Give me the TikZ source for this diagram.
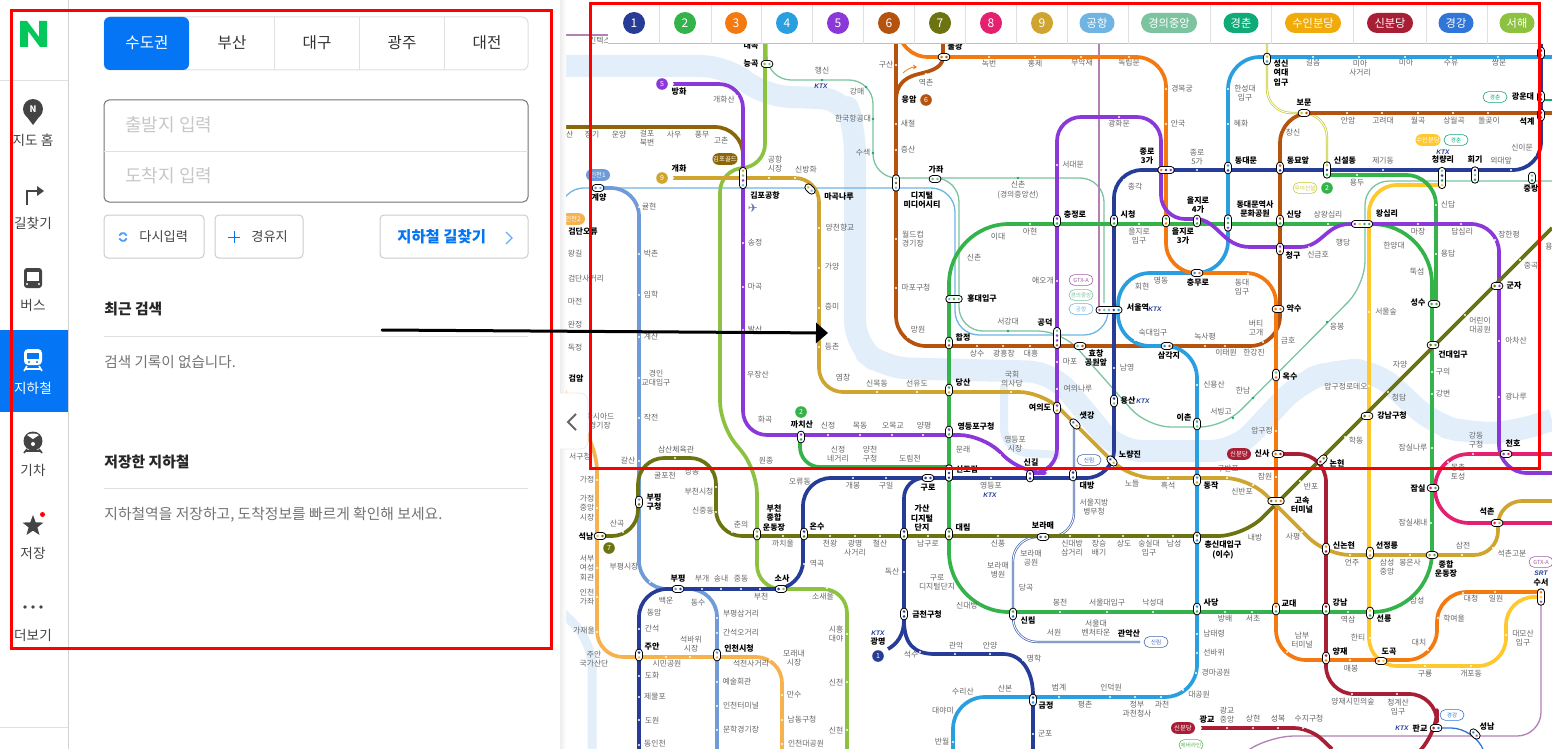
\documentclass[tikz,border=0pt]{standalone}
\usepackage{fontspec}
\usepackage{xcolor}
\setmainfont{Noto Sans CJK KR}
\newfontfamily\ktxfont{Liberation Sans}
\newfontfamily\symfont{DejaVu Sans}
\usetikzlibrary{arrows.meta,shapes.geometric,shapes.misc,positioning}
\definecolor{ln1}{HTML}{263C96}
\definecolor{ln2}{HTML}{33B34A}
\definecolor{ln3}{HTML}{F47A10}
\definecolor{ln4}{HTML}{2A9FDF}
\definecolor{ln5}{HTML}{8A38D8}
\definecolor{ln6}{HTML}{B5520E}
\definecolor{ln7}{HTML}{6B7410}
\definecolor{ln8}{HTML}{E5206E}
\definecolor{ln9}{HTML}{CFA52F}
\definecolor{lnap}{HTML}{6FB4E2}
\definecolor{lngj}{HTML}{7CC4A0}
\definecolor{lngc}{HTML}{0FAA78}
\definecolor{lnsu}{HTML}{F0AB0A}
\definecolor{lnyl}{HTML}{FFC82F}
\definecolor{lnsn}{HTML}{A81E34}
\definecolor{lngk}{HTML}{2F76D8}
\definecolor{lnsh}{HTML}{8DC240}
\definecolor{lnia}{HTML}{6F9BD8}
\definecolor{lnib}{HTML}{F5B24F}
\definecolor{lngp}{HTML}{8B6508}
\definecolor{lnui}{HTML}{C9C92B}
\definecolor{lnsl}{HTML}{4466B0}
\definecolor{lngtx}{HTML}{A060A0}
\definecolor{lnev}{HTML}{5CB85C}
\definecolor{riverblue}{HTML}{E3EEFB}
\definecolor{naverblue}{HTML}{0475F4}
\definecolor{navergreen}{HTML}{03C75A}
\definecolor{icondark}{HTML}{444444}
\definecolor{labelgray}{HTML}{666666}
\tikzset{
	metro/.style={line width=1.85pt,line join=round,rounded corners=14pt},
	thin metro/.style={line width=.65pt,line join=round,rounded corners=12pt},
	twinline/.style={draw=#1,double=white,double distance=.45pt,line width=.35pt,rounded corners=12pt},
	river/.style={draw=riverblue,line width=#1,line join=round,rounded corners=12pt},
	hubedge/.style={black,line width=3.9pt,line cap=round},
	hubfill/.style={white,line width=2.9pt,line cap=round},
	stgray/.style={inner sep=0pt,align=center,text=labelgray,font=\fontsize{3.9}{4.6}\selectfont},
	stbold/.style={inner sep=0pt,align=center,text=black,font=\fontsize{4}{4.7}\selectfont\bfseries},
	ktxmark/.style={inner sep=0pt,text=ln1,font=\fontsize{3.3}{4}\ktxfont\bfseries\itshape},
	numdisc/.style={circle,fill=#1,text=white,inner sep=0pt,minimum size=11pt,font=\fontsize{6}{7}\selectfont},
	mapdisc/.style={circle,fill=#1,text=white,inner sep=0pt,minimum size=5.8pt,font=\fontsize{3.5}{4}\selectfont},
	legendpill/.style={rounded rectangle,fill=#1,text=white,inner sep=0pt,minimum height=10pt,font=\fontsize{5.6}{6.5}\selectfont},
	mappill/.style={rounded rectangle,draw=#1,text=#1,fill=white,line width=.3pt,inner sep=0pt,minimum width=12pt,minimum height=5.4pt,font=\fontsize{2.8}{3.4}\selectfont},
	mapfill/.style={rounded rectangle,fill=#1,text=white,inner sep=0pt,minimum width=12pt,minimum height=5.8pt,font=\fontsize{3.2}{3.8}\selectfont},
	sidelabel/.style={inner sep=0pt,text=icondark,font=\fontsize{6.8}{7.8}\selectfont},
	tablabel/.style={inner sep=0pt,text=black!80,font=\fontsize{7.8}{9}\selectfont},
	panelrule/.style={black!12,line width=.5pt},
	softbox/.style={draw=black!20,fill=white,line width=.5pt,rounded corners=2pt},
	redframe/.style={draw=red,line width=1.5pt},
}
\newcommand{\Hub}[4]{%
	\begin{scope}[shift={(#1)},rotate=#2]
		\pgfmathsetmacro{\hubreach}{(#3-1)*2.4}
		\draw[hubedge] (-\hubreach,0) -- (\hubreach,0);
		\draw[hubfill] (-\hubreach,0) -- (\hubreach,0);
		\foreach \Tint [count=\i] in {#4}
			\fill[\Tint] ({(\i-(#3+1)/2)*4.8},0) circle (1.4);
	\end{scope}}

\begin{document}
\begin{tikzpicture}[x=.5pt,y=-.5pt]
	\clip (0,0) rectangle (1552,749);
	\fill[white] (0,0) rectangle (1552,749);

	% river
	\draw[river=11pt] (560,66) -- (725,66) -- (765,96) -- (845,99) -- (855,130) -- (855,345) -- (885,368) -- (1052,372) -- (1118,451) -- (1235,451) -- (1300,382) -- (1335,370) -- (1375,370) -- (1435,425) -- (1470,433) -- (1510,433) -- (1552,420);
	\draw[river=4pt] (1004,385) -- (1004,452) -- (1060,455);
	\draw[river=4.5pt] (560,610) -- (592,642) -- (592,749);

	% thin lines
	\draw[thin metro,lnap] (560,216) -- (560,188) -- (955,188) -- (955,335) -- (1108,335) -- (1108,310);
	\draw[thin metro,lngj] (767,44) -- (767,80) -- (873,80) -- (873,178) -- (1104,178) -- (1104,303);
	\draw[thin metro,lngj] (942,178) -- (959,178) -- (959,331) -- (1062,331) -- (1147,427) -- (1224,427) -- (1365,285) -- (1365,181) -- (1552,181);
	\draw[thin metro,lngtx!80] (1099,44) -- (1099,310);
	\draw[thin metro,lngtx!80] (1541,597) -- (1541,736) -- (1270,736) -- (1250,749);
	\draw[thin metro,lngtx!80] (560,35) -- (608,35);
	\draw[thin metro,lngk] (1437,728) -- (1475,728) -- (1483,749);
	\draw[thin metro,lngc] (1541,100) -- (1552,100);
	\draw[twinline=lnui] (1267,44) -- (1267,113) -- (1327,113) -- (1327,165);
	\draw[twinline=lnsl] (1074,425) -- (1074,537) -- (1013,537) -- (1013,642) -- (1140,642);

	% main lines
	\draw[metro,lnsh,rounded corners=12pt] (765,44) -- (765,168) -- (720,168) -- (720,425) -- (757,470) -- (757,589) -- (847,589) -- (847,749);
	\draw[metro,lnia] (598,188) -- (639,188) -- (639,589) -- (717,589) -- (717,749);
	\draw[metro,lnib,rounded corners=13pt] (562,230) -- (562,400) -- (597,445) -- (597,657) -- (782,657) -- (782,749);
	\draw[metro,lngp,rounded corners=14pt] (560,127) -- (743,127) -- (743,178);
	\draw[metro,lnyl] (1441,185) -- (1369,185) -- (1369,666) -- (1506,666) -- (1506,597) -- (1540,597);
	\draw[metro,ln6,rounded corners=15pt] (896,44) -- (896,346) -- (1280,346) -- (1280,113) -- (1552,113);
	\draw[metro,ln6,sharp corners] (943,44) -- (943,57) .. controls (943,70) and (925,72) .. (915,75) .. controls (905,78) and (896,85) .. (896,100);
	\draw[metro,ln4,rounded corners=16pt] (1552,57) -- (1228,57) -- (1228,273) -- (1118,273) -- (1118,346) -- (1197,346) -- (1197,697) -- (953,697) -- (953,749);
	\draw[metro,ln3,rounded corners=15pt] (898,44) -- (898,57) -- (1166,57) -- (1166,273) -- (1276,273) -- (1276,660) -- (1437,660) -- (1437,592) -- (1540,592);
	\draw[metro,ln2,rounded corners=30pt] (949,224) -- (1432,224) -- (1432,612) -- (949,612) -- cycle;
	\draw[metro,ln2,rounded corners=15pt] (1327,175) -- (1436,175) -- (1436,303);
	\draw[metro,ln2,rounded corners=10pt] (800,438) -- (800,467) -- (949,467);
	\draw[metro,ln5,rounded corners=12pt] (673,84) -- (743,84) -- (743,435) -- (983,435) -- (1021,473) -- (1057,473) -- (1057,117) -- (1161,117) -- (1161,219) -- (1195,219);
	\draw[metro,ln5,sharp corners] (1195,219) .. controls (1218,219) and (1222,247) .. (1250,247) -- (1300,247) .. controls (1322,247) and (1326,224) .. (1350,224);
	\draw[metro,ln5,rounded corners=14pt] (1350,224) -- (1499,224) -- (1499,473) -- (1552,473);
	\draw[metro,ln1] (1541,44) -- (1541,170) -- (1114,170) -- (1114,478) -- (803,478) -- (803,589) -- (639,589) -- (639,749);
	\draw[metro,ln1,rounded corners=10pt] (925,478) -- (904,478) -- (904,625);
	\draw[metro,ln1,sharp corners] (904,620) .. controls (904,635) and (897,644) .. (888,649);
	\draw[metro,ln1,sharp corners] (904,620) .. controls (904,645) and (915,654) .. (935,654) -- (1003,654) .. controls (1022,654) and (1033,672) .. (1033,695) -- (1033,749);
	\draw[metro,ln7,rounded corners=13pt] (1552,228) -- (1244,536) -- (716,536) -- (716,458) -- (638,458) -- (638,536) -- (600,536);
	\draw[metro,ln9,rounded corners=12pt] (673,178) -- (819,178) -- (819,392) -- (1043,392) -- (1129,478) -- (1249,478) -- (1326,555) -- (1498,555) -- (1498,501) -- (1552,501);
	\draw[metro,ln8,rounded corners=17pt] (1552,454) -- (1435,454) -- (1435,523) -- (1552,523);
	\draw[metro,lnsn] (1277,454) -- (1326,454) -- (1326,694) -- (1437,694) -- (1437,738) -- (1423,749);
	\draw[metro,lnsn,rounded corners=8pt] (1201,728) -- (1310,728) -- (1332,749);
	\draw[-{Stealth[length=2pt,width=2.4pt]},ln3,line width=.4pt] (903,73) .. controls (907,69) and (912,67) .. (917,67);

	% stops
	\foreach \X/\Y in {743/243,743/287,743/330,737/96,755/427,828/435,860/435,892/435,923/435,1000/455,1057/165,1057/281,1057/362,1057/389,1119/117,1418/224,1461/224,1495/240,1499/341,1499/397,1332/236,1309/247,673/84,673/178,769/178,795/178,819/228,819/268,819/308,819/347,832/385,877/392,917/392,1011/392,1138/478,1168/478,1227/478,1253/485,1302/532,1350/555,1410/555,1462/555,1493/548,1520/260,1465/315,1388/392,1345/437,1300/481,1247/532,1070/536,1099/536,1123/536,1148/536,1173/536,998/536,928/536,880/536,855/536,830/536,783/536,732/532,716/512,716/487,702/465,675/458,652/470,623/532,1124/180,1197/170,1383/170,1511/170,1535/155,1114/368,853/478,886/478,991/478,812/490,804/564,702/589,721/589,741/589,760/589,655/595,639/629,639/676,639/697,639/720,639/745,904/572,920/652,955/654,990/654,1023/660,1033/734,988/231,963/251,1030/224,1139/224,1328/224,1407/240,1425/267,1432/372,1432/394,1432/448,1431/523,1407/595,1060/612,1107/612,1153/612,1225/612,1252/612,1348/612,980/600,1357/175,1436/205,1436/254,989/57,1035/57,1081/57,1129/57,1166/89,1166/124,1248/274,1276/431,1276/477,1287/652,1350/660,1428/650,1438/618,1463/593,1495/592,1313/57,1359/57,1405/57,1451/57,1498/57,1228/89,1228/124,1132/282,1135/340,1197/385,1197/634,1197/653,1196/673,1183/690,1059/697,1110/697,1135/697,1161/697,953/742,896/65,896/124,896/150,896/239,896/288,908/337,977/346,1003/346,1030/346,1205/346,1225/346,1263/342,1280/130,1347/113,1382/113,1418/113,1453/113,1488/113,926/74,1473/454,1448/462,1369/312,1369/386,1370/638,1425/666,1471/666,1506/635,597/480,597/508,597/568,597/597,597/632,610/650,666/657,690/657,770/660,782/695,782/720,782/744,639/207,639/254,639/295,639/337,639/378,639/418,639/461,650/582,703/597,717/618,717/633,717/682,717/706,717/730,847/634,847/682,847/730,827/588,1352/694,1397/694,1201/728,1227/728,1253/728,1278/728,1303/728}
		\fill[white] (\X,\Y) circle (1.2);
	\foreach \X/\Y in {822/80,866/87,873/119,873/153,1018/178,1008/331,1327/322,1253/398,1233/418}
		\fill[lngc] (\X,\Y) circle (1.4);

	% interchanges
	\Hub{767,64}{0}{2}{lnsh,lngj}
	\Hub{944,57}{0}{2}{ln3,ln6}
	\Hub{935,179}{0}{2}{lngj,lngj}
	\Hub{743,178}{-90}{4}{ln9,lnsh,ln5,lnap}
	\Hub{896,183}{-90}{3}{lngj,ln6,lnap}
	\Hub{598,188}{0}{2}{lnia,lnap}
	\Hub{810,189}{-45}{2}{ln9,lnap}
	\Hub{954,299}{0}{3}{lnap,ln2,lngj}
	\Hub{949,343}{-90}{2}{ln2,ln6}
	\Hub{1057,338}{-90}{4}{lngj,ln5,ln5,ln6}
	\Hub{1080,346}{0}{2}{lngj,ln6}
	\Hub{1109,310}{0}{5}{lngtx,lngj,lnap,ln1,ln4}
	\Hub{1167,346}{0}{2}{ln4,ln6}
	\Hub{1197,273}{0}{2}{ln4,ln3}
	\Hub{1278,309}{0}{2}{ln3,ln3}
	\Hub{1276,375}{-90}{2}{lngj,ln3}
	\Hub{1057,221}{-90}{2}{ln5,ln2}
	\Hub{1114,221}{-90}{2}{ln1,ln2}
	\Hub{1166,221}{-90}{2}{ln2,ln3}
	\Hub{1197,221}{-90}{2}{ln5,ln2}
	\Hub{1228,223}{-90}{3}{ln4,ln2,ln5}
	\Hub{1280,221}{-90}{2}{ln6,ln2}
	\Hub{1280,249}{-90}{2}{ln5,ln6}
	\Hub{1362,224}{0}{4}{ln5,lnyl,ln2,ln2}
	\Hub{1166,170}{0}{3}{ln3,ln1,ln5}
	\Hub{1228,168}{-90}{2}{ln4,ln1}
	\Hub{1280,168}{-90}{2}{ln6,ln1}
	\Hub{1327,170}{-90}{3}{lnui,ln1,ln2}
	\Hub{1442,178}{-90}{4}{lngj,ln1,lngc,lnyl}
	\Hub{1475,175}{-90}{3}{ln1,lngj,lngc}
	\Hub{1532,178}{-90}{2}{lngj,lngc}
	\Hub{1267,59}{-90}{2}{lnui,ln4}
	\Hub{1304,113}{0}{2}{lnui,ln6}
	\Hub{1541,97}{-90}{2}{lngc,ln1}
	\Hub{1541,115}{-90}{2}{ln1,ln6}
	\Hub{1541,53}{-90}{2}{ln1,ln4}
	\Hub{1434,304}{0}{2}{ln2,ln2}
	\Hub{1433,345}{0}{2}{ln7,ln2}
	\Hub{1497,286}{0}{2}{ln7,ln5}
	\Hub{1057,408}{-90}{2}{ln5,ln9}
	\Hub{1075,424}{-45}{2}{lnsl,ln9}
	\Hub{1112,461}{-45}{2}{ln1,ln9}
	\Hub{1114,401}{-90}{2}{ln1,lngj}
	\Hub{1197,424}{-90}{2}{ln4,lngj}
	\Hub{1197,480}{-90}{2}{ln4,ln9}
	\Hub{1073,475}{-90}{2}{ln1,lnsl}
	\Hub{1197,538}{-90}{2}{ln7,ln4}
	\Hub{1197,609}{-90}{2}{ln4,ln2}
	\Hub{1276,609}{-90}{2}{ln3,ln2}
	\Hub{1326,609}{-90}{2}{lnsn,ln2}
	\Hub{1370,613}{-90}{2}{lnyl,ln2}
	\Hub{1326,658}{-90}{2}{lnsn,ln3}
	\Hub{1381,661}{0}{2}{ln3,lnyl}
	\Hub{1326,549}{-90}{2}{ln9,lnsn}
	\Hub{1370,553}{-90}{2}{lnyl,ln9}
	\Hub{1432,555}{0}{2}{ln9,ln2}
	\Hub{1276,501}{0}{3}{ln7,ln9,ln3}
	\Hub{1278,454}{0}{2}{ln3,lnsn}
	\Hub{1322,460}{-135}{2}{ln7,lnsn}
	\Hub{1367,416}{0}{2}{ln7,lnyl}
	\Hub{1433,488}{0}{2}{ln8,ln2}
	\Hub{1506,454}{0}{2}{ln5,ln8}
	\Hub{1497,523}{0}{2}{ln8,ln9}
	\Hub{1541,597}{-90}{3}{ln3,lnyl,lngtx}
	\Hub{1436,728}{0}{2}{lnsn,lngk}
	\Hub{1475,734}{-45}{2}{lngk,lngtx}
	\Hub{949,390}{-90}{2}{ln2,ln9}
	\Hub{949,432}{-90}{2}{ln5,ln2}
	\Hub{801,437}{-90}{2}{ln5,ln2}
	\Hub{949,473}{-90}{3}{ln2,ln1,ln1}
	\Hub{928,478}{0}{2}{ln1,ln1}
	\Hub{1030,476}{-90}{2}{ln5,ln1}
	\Hub{639,502}{-90}{2}{lnia,ln7}
	\Hub{600,536}{0}{2}{lnib,ln7}
	\Hub{757,534}{-90}{2}{lnsh,ln7}
	\Hub{804,534}{-90}{2}{ln1,ln7}
	\Hub{904,534}{-90}{2}{ln1,ln7}
	\Hub{949,534}{-90}{2}{ln2,ln7}
	\Hub{1043,537}{0}{2}{lnsl,ln7}
	\Hub{904,614}{-90}{2}{ln1,ln1}
	\Hub{1013,614}{-90}{2}{ln2,lnsl}
	\Hub{678,589}{0}{2}{lnia,ln1}
	\Hub{781,589}{0}{2}{ln1,lnsh}
	\Hub{639,655}{-90}{2}{ln1,lnib}
	\Hub{717,655}{-90}{2}{lnia,lnib}
	\Hub{1033,700}{-90}{2}{ln1,ln4}

	% station names
	\foreach \X/\Y/\Nome [count=\n] in {600/41/킨텍스,822/71/행신,857/92/강매,853/119/한국항공대,863/153/수색,886/65/구산,926/83/역촌,908/124/새절,908/150/증산,989/64/녹번,1035/64/홍제,724/100/개화산,566/135/마산,592/135/장기,619/135/운양,647/138/걸포\\북변,674/135/사우,702/135/풍무,721/140/고촌,775/164/공항\\시장,806/170/신방화,649/207/귤현,651/254/박촌,651/295/임학,651/337/계산,656/378/경인\\교대입구,651/418/작전,575/254/왕길,586/279/검단사거리,575/302/마전,575/325/완정,575/348/독정,840/228/양천향교,832/267/가양,832/307/증미,832/347/등촌,755/243/송정,755/287/마곡,755/330/발산,758/375/우장산,913/239/월드컵\\경기장,916/288/마포구청,918/330/망원,1018/190/신촌\\(경의중앙선),998/237/이대,1030/232/아현,974/257/신촌,1043/281/애오개,1008/322/서강대,977/354/상수,1004/354/광흥창,1031/354/대흥,1012/379/국회\\의사당,1082/63/무악재,1129/63/독립문,1182/89/경복궁,1178/124/안국,1119/124/광화문,1073/165/서대문,1197/157/종로\\5가,1135/187/종각,1139/236/을지로\\입구,1245/93/한성대\\입구,1241/124/혜화,1313/63/길음,1360/68/미아\\사거리,1406/63/미아,1451/63/수유,1499/63/쌍문,1293/133/창신,1348/121/안암,1383/121/고려대,1418/121/월곡,1454/121/상월곡,1489/121/돌곶이,1383/161/제기동,1501/161/외대앞,1522/148/신이문,1357/183/용두,1328/215/상왕십리,1318/255/신금호,1343/243/행당,1448/205/신답,1448/254/용답,1418/232/마장,1462/232/답십리,1509/235/장한평,1394/246/한양대,1417/272/뚝섬,1242/287/동대\\입구,1161/281/명동,1142/287/회현,1153/333/숙대입구,1205/337/녹사평,1256/328/버티\\고개,1226/353/이태원,1254/353/한강진,1288/341/금호,1337/327/응봉,1386/312/서울숲,1480/325/어린이\\대공원,1516/341/아차산,1531/266/중곡,1556/247/용마산,1443/372/구의,1400/365/자양,1070/362/마포,1127/368/남영,1078/389/여의나루,1214/385/신용산,1243/391/한남,1221/412/서빙고,1262/431/압구정,1346/387/압구정로데오,1399/398/청담,1443/394/강변,1516/397/광나루,1356/441/학동,1413/448/잠실나루,1476/440/강동\\구청,1458/472/몽촌\\토성,1228/469/구반포,1265/477/잠원,1242/491/신반포,1311/487/반포,1132/484/노들,1168/486/흑석,1094/507/서울지방\\병무청,1255/538/내방,1293/537/사평,1413/523/잠실새내,1463/546/삼전,1512/554/석촌고분,1352/563/언주,1387/567/삼성\\중앙,1410/563/봉은사,1072/548/신대방\\삼거리,1099/548/장승\\배기,1124/544/상도,1149/548/숭실대\\입구,1174/544/남성,1060/603/봉천,1107/603/서울대입구,1153/603/낙성대,1225/619/방배,1253/619/서초,1348/620/역삼,1417/601/삼성,1471/599/대청,1496/599/일원,1454/619/학여울,1419/643/대치,1523/638/대모산\\입구,1425/674/구룡,1471/674/개포동,1358/638/한티,1351/669/매봉,1302/640/남부\\터미널,1214/634/남태령,1214/653/선바위,1216/673/경마공원,1199/695/대공원,1059/688/범계,1111/688/인덕원,1085/705/평촌,1137/709/정부\\과천청사,1162/705/과천,1096/628/서울대\\벤처타운,1054/633/서원,1353/702/양재시민의숲,1398/707/청계산\\입구,1227/715/광교\\중앙,1253/719/상현,1278/719/성복,1309/719/수지구청,600/421/아시아드\\경기장,580/457/서구청,587/480/가정,587/508/가정\\중앙\\시장,587/568/서부\\여성\\회관,587/597/인천\\가좌,584/631/가재울,594/659/주안\\국가산단,628/461/갈산,676/450/삼산체육관,665/476/굴포천,692/472/상동,699/492/부천시청,703/511/신중동,741/525/춘의,617/524/산곡,624/567/부평시장,766/461/원종,800/482/오류동,783/544/까치울,830/544/천왕,855/548/광명\\사거리,880/544/철산,928/544/남구로,817/564/역곡,998/544/신풍,998/570/보라매\\병원,1031/558/보라매\\공원,1026/588/당곡,937/582/구로\\디지털단지,967/606/신대방,892/572/독산,853/486/개봉,886/486/구일,991/486/영등포,828/426/신정,860/426/목동,893/426/오목교,924/426/양평,765/420/화곡,838/454/신정\\네거리,870/454/양천\\구청,910/459/도림천,963/450/문래,1015/444/영등포\\시장,877/384/신목동,917/384/선유도,843/378/염창,702/579/부개,721/579/송내,741/579/중동,761/597/부천,823/597/소새울,666/601/백운,698/603/동수,654/613/동암,652/629/간석,741/614/부평삼거리,741/633/간석오거리,691/644/석바위\\시장,794/658/모래내\\시장,836/634/시흥\\대야,667/664/시민공원,751/664/석천사거리,652/676/도화,655/697/제물포,652/720/도원,655/744/동인천,737/682/예술회관,741/706/인천터미널,741/730/문학경기장,794/695/만수,802/720/남동구청,806/744/인천대공원,836/682/신천,836/730/신현,956/646/관악,990/646/안양,911/655/석수,1034/659/명학,963/692/수리산,1005/688/산본,943/711/대야미,942/742/반월,1045/734/군포}
		\node[stgray] (gray\n) at (\X,\Y) {\Nome};
	\foreach \X/\Y/\Nome [count=\n] in {679/92/방화,679/169/개화,765/195/김포공항,839/197/마곡나루,922/200/디지털\\미디어시티,936/169/가좌,599/198/계양,583/232/검단오류,909/100/응암,751/64/능곡,751/46/대곡,955/47/불광,982/298/홍대입구,1045/323/공덕,963/337/합정,1147/156/종로\\3가,1075/215/충정로,1128/215/시청,1198/205/을지로\\4가,1183/236/을지로\\3가,1246/161/동대문,1298/161/동묘앞,1345/161/신설동,1255/209/동대문역사\\문화공원,1294/215/신당,1293/255/청구,1387/214/왕십리,1443/160/청량리,1475/160/회기,1531/189/중랑,1304/103/보문,1281/73/성신\\여대\\입구,1523/97/광운대,1527/122/석계,1198/283/충무로,1138/308/서울역,1294/309/약수,1169/356/삼각지,1096/358/효창\\공원앞,1418/303/성수,1514/286/군자,1453/355/건대입구,1184/418/이촌,1290/377/옥수,1128/401/용산,1040/408/여의도,1087/416/샛강,1130/455/노량진,1262/454/신사,1337/463/논현,1513/443/천호,1392/416/강남구청,1418/488/잠실,1487/512/석촌,1087/486/대방,1211/486/동작,1302/505/고속\\터미널,1223/550/총신대입구\\(이수),1344/545/신논현,1387/546/선정릉,1446/569/종합\\운동장,1211/603/사당,1289/603/교대,1340/603/강남,1384/619/선릉,1340/652/양재,1389/652/도곡,1541/583/수서,1420/728/판교,1487/726/성남,1207/719/광교,1129/633/관악산,576/378/검암,963/383/당산,976/426/영등포구청,967/469/신도림,802/424/까치산,928/488/구로,1031/462/신길,654/502/부평\\구청,586/536/석남,678/579/부평,782/579/소사,774/518/부천\\종합\\운동장,817/527/온수,922/518/가산\\디지털\\단지,963/527/대림,1043/526/보라매,927/614/금천구청,878/642/광명,1028/620/신림,652/647/주안,739/648/인천시청,1046/706/금정}
		\node[stbold] (bold\n) at (\X,\Y) {\Nome};

	% small badges
	\foreach \X/\Y/\Tint/\Nome [count=\n] in {662/84/ln5/5,662/178/ln9/9,926/100/ln6/6,1327/188/ln2/2,801/412/ln2/2,609/548/ln7/7,878/656/ln1/1}
		\node[mapdisc=\Tint] (disc\n) at (\X,\Y) {\Nome};
	\foreach \X/\Y/\Tint/\Nome [count=\n] in {598/175/lnia/인천1,573/219/lnib/인천2,725/159/lngp/김포골드,1428/140/lnyl/수인분당,1239/454/lnsn/신분당,1183/728/lnsn/신분당}
		\node[mapfill=\Tint] (fillpill\n) at (\X,\Y) {\Nome};
	\foreach \X/\Y/\Tint/\Nome [count=\n] in {1495/97/lngc/경춘,1305/188/lnui/우이신설,1456/140/lngc/경춘,1081/280/lngtx/GTX-A,1081/295/lngj/경의중앙,1081/309/lnap/공항,1089/460/lnsl/신림,1156/642/lnsl/신림,1541/562/lngtx/GTX-A,1452/715/lngk/경강,1191/745/lnev/에버라인}
		\node[mappill=\Tint] (linepill\n) at (\X,\Y) {\Nome};
	\foreach \X/\Y [count=\n] in {821/86,1155/309,1443/152,1143/401,990/495,878/633,1402/728}
		\node[ktxmark] (ktx\n) at (\X,\Y) {KTX};
	\node[ktxmark] (srt) at (1541,573) {SRT};
	\node[inner sep=0pt,text=ln1!70,font=\fontsize{6}{7}\symfont] (plane) at (753,208) {✈};

	% line legend
	\fill[white] (608,3) rectangle (1540,44);
	\draw[panelrule,black!25] (608,44) -- (1540,44);
	\foreach \X in {659,711,761,812,863,914,965,1016,1067,1128,1210,1271,1353,1426,1487}
		\draw[panelrule] (\X,5) -- (\X,44);
	\foreach \X/\Tint/\Nome [count=\n] in {634/ln1/1,685/ln2/2,736/ln3/3,787/ln4/4,838/ln5/5,889/ln6/6,940/ln7/7,991/ln8/8,1042/ln9/9}
		\node[numdisc=\Tint] (num\n) at (\X,23) {\Nome};
	\foreach \X/\W/\Tint/\Nome [count=\n] in {1097/35/lnap/공항,1169/56/lngj/경의중앙,1241/35/lngc/경춘,1313/56/lnsu/수인분당,1390/46/lnsn/신분당,1456/35/lngk/경강,1517/35/lnsh/서해}
		\node[legendpill=\Tint,minimum width=\W*.5pt] (pill\n) at (\X,23) {\Nome};

	% left panel
	\fill[white] (0,0) rectangle (560,749);
	\shade[left color=black!7,right color=white,draw=none] (560,0) rectangle (566,749);
	\draw[panelrule,black!18] (68,0) -- (68,749);
	\draw[panelrule] (0,81) -- (68,81);
	\draw[panelrule] (0,727) -- (68,727);
	\fill[naverblue] (0,330) rectangle (68,412);
	\fill[navergreen] (20,21) -- (27,21) -- (39,37) -- (39,21) -- (47,21) -- (47,47) -- (40,47) -- (28,31) -- (28,47) -- (20,47) -- cycle;

	% menu icons
	\fill[icondark] (33,109) circle (10);
	\fill[icondark] (24,113) -- (33,125) -- (42,113) -- cycle;
	\node[inner sep=0pt,text=white,font=\fontsize{4.5}{5}\selectfont\bfseries] (pinmark) at (33,109) {N};
	\draw[icondark,line width=1.2pt] (27,205) -- (27,191) -- (37,191);
	\fill[icondark] (37,186) -- (44,191) -- (37,196) -- cycle;
	\fill[icondark,rounded corners=1.5pt] (24,268) rectangle (42,288);
	\fill[white] (27,272) rectangle (39,281);
	\fill[white] (27,284) circle (1.1) (39,284) circle (1.1);
	\fill[white,rounded corners=2pt] (24,349) rectangle (42,365);
	\fill[naverblue] (27,353) rectangle (39,359);
	\fill[naverblue] (29,362) circle (1.1) (37,362) circle (1.1);
	\draw[white,line width=.8pt] (27,366) -- (24,371) (39,366) -- (42,371) (25,369) -- (41,369);
	\fill[icondark] (33,441) circle (9.5);
	\fill[white] (33,439) -- (27,435) .. controls (30,433) and (36,433) .. (39,435) -- cycle;
	\fill[white] (33,444) circle (2);
	\draw[icondark,line width=.8pt] (27,449) -- (24,453) (39,449) -- (42,453) (25,451) -- (41,451);
	\node[star,star points=5,star point ratio=2.4,fill=icondark,inner sep=0pt,minimum size=11pt] (starmark) at (33,526) {};
	\fill[red] (42.5,514.5) circle (2.5);
	\foreach \X in {25,33,41}
		\fill[icondark] (\X,607) circle (1.8);
	\foreach \Y/\Nome [count=\n] in {140/지도 홈,223/길찾기,305/버스,470/기차,553/저장,635/더보기}
		\node[sidelabel] (menu\n) at (33,\Y) {\Nome};
	\node[sidelabel,text=white] (menusubway) at (33,388) {지하철};

	% region tabs
	\draw[panelrule,fill=white,rounded corners=3pt] (104,17) rectangle (528,70);
	\fill[naverblue,rounded corners=3pt] (104,17) rectangle (189,70);
	\foreach \X in {274,359,444}
		\draw[panelrule] (\X,17) -- (\X,70);
	\node[tablabel,text=white] (tabmain) at (147,43) {수도권};
	\foreach \X/\Nome [count=\n] in {232/부산,317/대구,402/광주,487/대전}
		\node[tablabel] (tab\n) at (\X,43) {\Nome};

	% search boxes
	\draw[draw=black!55,line width=.5pt,rounded corners=2.5pt] (104,100) rectangle (528,202);
	\draw[panelrule] (104,151) -- (528,151);
	\node[anchor=west,inner sep=0pt,text=black!22,font=\fontsize{9}{10}\selectfont] (fromfield) at (125,125) {출발지 입력};
	\node[anchor=west,inner sep=0pt,text=black!22,font=\fontsize{9}{10}\selectfont] (tofield) at (125,176) {도착지 입력};
	\draw[softbox] (104,215) rectangle (204,258);
	\draw[softbox] (215,215) rectangle (303,258);
	\draw[softbox] (380,215) rectangle (528,258);
	\draw[naverblue!70,line width=.9pt] (123,237) ++(20:4) arc (20:160:4);
	\draw[naverblue!70,line width=.9pt] (123,237) ++(200:4) arc (200:340:4);
	\draw[naverblue,line width=.5pt] (228,237) -- (240,237) (234,231) -- (234,243);
	\node[anchor=west,inner sep=0pt,text=icondark,font=\fontsize{6.6}{8}\selectfont] (resetbutton) at (139,237) {다시입력};
	\node[anchor=west,inner sep=0pt,text=icondark,font=\fontsize{6.6}{8}\selectfont] (viabutton) at (251,237) {경유지};
	\node[anchor=west,inner sep=0pt,text=naverblue,font=\fontsize{7.7}{9}\selectfont\bfseries] (routebutton) at (397,237) {지하철 길찾기};
	\draw[naverblue!60,line width=.6pt] (506,232) -- (512,238) -- (506,244);

	% recent and saved
	\node[anchor=west,inner sep=0pt,text=black!85,font=\fontsize{7.4}{9}\selectfont\bfseries] (recenthead) at (104,309) {최근 검색};
	\draw[panelrule] (104,336) -- (528,336);
	\node[anchor=west,inner sep=0pt,text=black!55,font=\fontsize{7.3}{9}\selectfont] (recenttext) at (104,362) {검색 기록이 없습니다.};
	\node[anchor=west,inner sep=0pt,text=black!85,font=\fontsize{7.4}{9}\selectfont\bfseries] (savedhead) at (104,462) {저장한 지하철};
	\draw[panelrule] (104,488) -- (528,488);
	\node[anchor=west,inner sep=0pt,text=black!55,font=\fontsize{7.4}{9}\selectfont] (savedtext) at (104,515) {지하철역을 저장하고, 도착정보를 빠르게 확인해 보세요.};

	% collapse handle
	\draw[draw=black!8,fill=white,rounded corners=4pt] (555,393) -- (588,393) -- (588,449) -- (555,449);
	\fill[white] (555,390) rectangle (560,452);
	\draw[black!60,line width=.9pt] (576,414) -- (568,422) -- (576,430);

	% red frames and arrow
	\draw[redframe] (11.5,11) rectangle (551.5,648);
	\draw[redframe] (590,4) rectangle (1539.5,468);
	\coordinate (arrowstart) at (382,330);
	\coordinate (arrowend) at (828,333);
	\draw[black,line width=1.5pt,-{Triangle[length=6pt,width=10pt]},line cap=round] (arrowstart) -- (arrowend);
\end{tikzpicture}
\end{document}
